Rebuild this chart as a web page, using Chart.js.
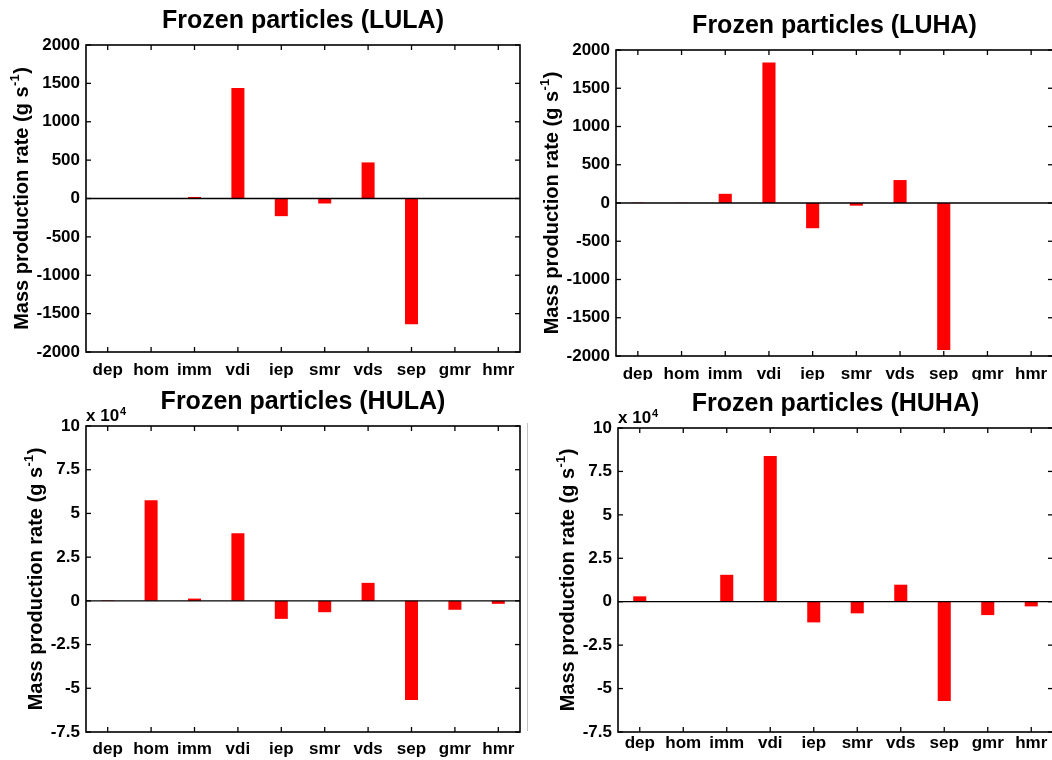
<!DOCTYPE html>
<html>
<head>
<meta charset="utf-8">
<script src="https://cdn.jsdelivr.net/npm/chart.js@4.4.1/dist/chart.umd.min.js"></script>
<style>
  html, body { margin: 0; padding: 0; background: #fff; overflow: hidden; }
  body { width: 1052px; height: 760px; position: relative; }
  canvas { position: absolute; }
  .divider { position: absolute; left: 527px; top: 423px; width: 1px; height: 308px; background: #c4c4c4; }
</style>
</head>
<body>
<canvas id="c1" width="526" height="380" style="left:0;top:0"></canvas>
<canvas id="c2" width="530" height="380" style="left:526px;top:0"></canvas>
<canvas id="c3" width="526" height="380" style="left:0;top:380px"></canvas>
<canvas id="c4" width="530" height="380" style="left:526px;top:380px"></canvas>
<div class="divider"></div>
<script>
// Microphysical process names
const categories = ['dep', 'hom', 'imm', 'vdi', 'iep', 'smr', 'vds', 'sep', 'gmr', 'hmr'];

// Mass production rates of frozen particles (g s-1)
const lulaValues = [5, 3, 20, 1440, -230, -65, 470, -1640, -5, 0];
const luhaValues = [5, 3, 120, 1835, -330, -35, 300, -1920, 0, 0];
const hulaValues = [300, 57500, 1300, 38600, -10300, -6500, 10300, -56700, -5100, -1700];
const huhaValues = [3100, 200, 15500, 83900, -11900, -6700, 9800, -57100, -7700, -2700];

// Axis ranges and tick steps
const lowRange = [-2000, 2000];
const lowStep = 500;
const highRange = [-75000, 100000];
const highStep = 25000;
const highExponent = 4;

const FONT = '"Liberation Sans", Arial, Helvetica, sans-serif';

// Box, inward ticks, zero line, titles
const framePlugin = {
  id: 'frame',
  afterDraw(chart, args, opts) {
    const { ctx, chartArea: a, scales } = chart;
    const x = scales.x, y = scales.y;
    const tl = 5;
    ctx.save();
    ctx.strokeStyle = '#000';
    ctx.lineWidth = 1.3;
    const line = (x1, y1, x2, y2) => { ctx.beginPath(); ctx.moveTo(x1, y1); ctx.lineTo(x2, y2); ctx.stroke(); };

    // zero line
    const y0 = y.getPixelForValue(0);
    line(a.left, y0, a.right, y0);

    // y ticks on both sides
    y.ticks.forEach(t => {
      const py = y.getPixelForValue(t.value);
      line(a.left, py, a.left + tl, py);
      line(a.right, py, a.right - tl, py);
    });
    // x ticks on top and bottom
    x.ticks.forEach((t, i) => {
      const px = x.getPixelForTick(i);
      line(px, a.bottom, px, a.bottom - tl);
      line(px, a.top, px, a.top + tl);
    });
    // box
    ctx.lineWidth = 1.6;
    ctx.strokeRect(a.left, a.top, a.right - a.left, a.bottom - a.top);

    ctx.fillStyle = '#000';
    // panel title
    ctx.font = 'bold 25px ' + FONT;
    ctx.textAlign = 'center';
    ctx.textBaseline = 'middle';
    ctx.fillText(opts.title, (a.left + a.right) / 2, opts.titleY);

    // y axis title with superscript
    const main = 'Mass production rate (g s';
    const sup = '-1';
    const tail = ')';
    ctx.save();
    ctx.translate(opts.yTitleX, (a.top + a.bottom) / 2);
    ctx.rotate(-Math.PI / 2);
    ctx.textAlign = 'left';
    ctx.textBaseline = 'alphabetic';
    ctx.font = 'bold 20px ' + FONT;
    const wMain = ctx.measureText(main).width;
    const wTail = ctx.measureText(tail).width;
    ctx.font = 'bold 13px ' + FONT;
    const wSup = ctx.measureText(sup).width;
    const total = wMain + wSup + wTail + 1;
    let cx = -total / 2;
    const base = 7;
    ctx.font = 'bold 20px ' + FONT;
    ctx.fillText(main, cx, base);
    cx += wMain;
    ctx.font = 'bold 13px ' + FONT;
    ctx.fillText(sup, cx + 0.5, base - 9);
    cx += wSup + 1;
    ctx.font = 'bold 20px ' + FONT;
    ctx.fillText(tail, cx, base);
    ctx.restore();

    // scale factor label
    if (opts.exponent) {
      ctx.textAlign = 'left';
      ctx.textBaseline = 'alphabetic';
      ctx.font = 'bold 17px ' + FONT;
      const base2 = a.top - 5;
      ctx.fillText('x 10', a.left, base2);
      const w = ctx.measureText('x 10').width;
      ctx.font = 'bold 11px ' + FONT;
      ctx.fillText(String(opts.exponent), a.left + w + 1, base2 - 6);
    }
    ctx.restore();
  }
};

function makeChart(id, values, range, step, scaleFn, cfg) {
  return new Chart(document.getElementById(id), {
    type: 'bar',
    data: {
      labels: categories,
      datasets: [{
        data: values,
        backgroundColor: '#ff0000',
        borderWidth: 0,
        barPercentage: 0.3,
        categoryPercentage: 1.0
      }]
    },
    options: {
      responsive: false,
      animation: false,
      devicePixelRatio: 1,
      layout: { padding: { left: 0, top: cfg.top, right: cfg.right, bottom: 0 } },
      plugins: {
        legend: { display: false },
        tooltip: { enabled: false },
        frame: { title: cfg.title, titleY: cfg.titleY, yTitleX: cfg.yTitleX, exponent: cfg.exponent }
      },
      scales: {
        x: {
          type: 'category',
          offset: true,
          grid: { display: false, drawTicks: false },
          border: { display: false },
          ticks: {
            color: '#000',
            font: { size: 17, weight: 'bold', family: FONT },
            padding: cfg.xPad,
            maxRotation: 0,
            autoSkip: false
          },
          afterFit: s => { s.height = cfg.xH; }
        },
        y: {
          min: range[0],
          max: range[1],
          grid: { display: false, drawTicks: false },
          border: { display: false },
          ticks: {
            stepSize: step,
            color: '#000',
            font: { size: 17, weight: 'bold', family: FONT },
            padding: 6,
            callback: v => scaleFn(v)
          },
          afterFit: s => { s.width = cfg.left; }
        }
      }
    },
    plugins: [framePlugin]
  });
}

const plain = v => String(v);
const scaled = v => String(v / Math.pow(10, highExponent));

makeChart('c1', lulaValues, lowRange, lowStep, plain,
  { title: 'Frozen particles (LULA)', titleY: 21, yTitleX: 21, left: 86, top: 45, right: 6, xH: 28, xPad: 8 });
makeChart('c2', luhaValues, lowRange, lowStep, plain,
  { title: 'Frozen particles (LUHA)', titleY: 26, yTitleX: 25, left: 90, top: 50, right: 3, xH: 24, xPad: 8 });
makeChart('c3', hulaValues, highRange, highStep, scaled,
  { title: 'Frozen particles (HULA)', titleY: 22, yTitleX: 35, left: 86, top: 46, right: 6, xH: 28, xPad: 7, exponent: highExponent });
makeChart('c4', huhaValues, highRange, highStep, scaled,
  { title: 'Frozen particles (HUHA)', titleY: 24, yTitleX: 41, left: 92, top: 48, right: 3, xH: 28, xPad: 1, exponent: highExponent });
</script>
</body>
</html>
